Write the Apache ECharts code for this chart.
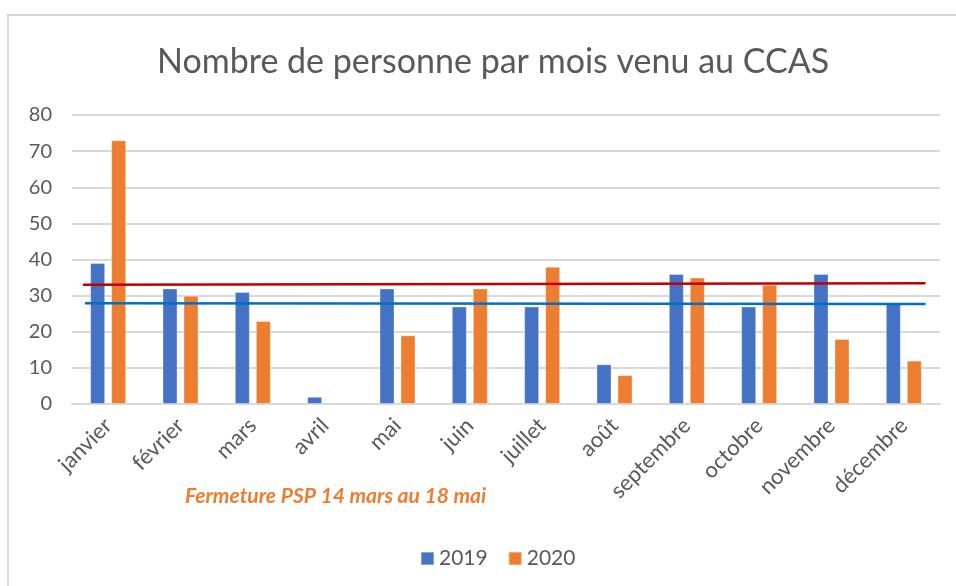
<!DOCTYPE html>
<html>
<head>
<meta charset="utf-8">
<script src="https://cdn.jsdelivr.net/npm/echarts@6/dist/echarts.min.js"></script>
<style>
  html, body { margin: 0; padding: 0; background: #fff; }
  #chart { width: 956px; height: 586px; }
</style>
</head>
<body>
<div id="chart"></div>
<script>
const months = ['janvier', 'février', 'mars', 'avril', 'mai', 'juin', 'juillet', 'août', 'septembre', 'octobre', 'novembre', 'décembre'];
const values2019 = [39, 32, 31, 2, 32, 27, 27, 11, 36, 27, 36, 28];
const values2020 = [73, 30, 23, null, 19, 32, 38, 8, 35, 33, 18, 12];
// hand-drawn lines on the original chart (x in month slots, y in people)
const redLine = [[0.15, 33], [11.8, 33.4]];
const blueLine = [[0.18, 27.9], [11.8, 27.7]];

const labelColor = '#595959';
const gridColor = '#D9D9D9';
const font = 'Lato, "Open Sans", sans-serif';

const chart = echarts.init(document.getElementById('chart'), null, { renderer: 'canvas' });

chart.setOption({
  backgroundColor: '#fff',
  animation: false,
  title: {
    text: 'Nombre de personne par mois venu au CCAS',
    left: 152,
    top: 40,
    textStyle: { color: labelColor, fontSize: 34, fontWeight: 'normal', fontFamily: font }
  },
  graphic: [
    {
      type: 'rect',
      shape: { x: 8, y: 15, width: 1200, height: 1200 },
      style: { fill: 'none', stroke: gridColor, lineWidth: 2 },
      silent: true
    },
    {
      type: 'text',
      left: 185,
      top: 486,
      style: {
        text: 'Fermeture PSP 14 mars au 18 mai',
        fill: '#ED7D31',
        font: 'italic bold 21px ' + font
      }
    }
  ],
  legend: {
    data: ['2019', '2020'],
    left: 415,
    top: 543,
    icon: 'rect',
    itemWidth: 13,
    itemHeight: 13,
    itemGap: 20,
    textStyle: { color: labelColor, fontSize: 21, fontFamily: font }
  },
  grid: { left: 72, right: 16, top: 115, bottom: 182 },
  xAxis: [
    {
      type: 'category',
      data: months,
      axisLine: { lineStyle: { color: gridColor, width: 2 } },
      axisTick: { show: false },
      axisLabel: { color: labelColor, fontSize: 22, fontFamily: font, rotate: 45, margin: 18, interval: 0 }
    },
    { type: 'value', min: 0, max: 12, show: false }
  ],
  yAxis: {
    type: 'value',
    min: 0,
    max: 80,
    interval: 10,
    axisLine: { show: false },
    axisTick: { show: false },
    axisLabel: { color: labelColor, fontSize: 20, fontFamily: font, margin: 20 },
    splitLine: { lineStyle: { color: gridColor, width: 2 } }
  },
  series: [
    {
      name: '2019',
      type: 'bar',
      data: values2019,
      barWidth: 15,
      barGap: '40%',
      itemStyle: { color: '#4472C4', borderColor: 'rgba(255,255,255,0.35)', borderWidth: 1 }
    },
    {
      name: '2020',
      type: 'bar',
      data: values2020,
      barWidth: 15,
      itemStyle: { color: '#ED7D31', borderColor: 'rgba(255,255,255,0.35)', borderWidth: 1 }
    },
    {
      name: 'rouge',
      type: 'line',
      xAxisIndex: 1,
      data: redLine,
      symbol: 'none',
      lineStyle: { color: '#C00000', width: 2.5 },
      z: 5
    },
    {
      name: 'bleu',
      type: 'line',
      xAxisIndex: 1,
      data: blueLine,
      symbol: 'none',
      lineStyle: { color: '#0070C0', width: 2.5 },
      z: 5
    }
  ]
});
</script>
</body>
</html>
